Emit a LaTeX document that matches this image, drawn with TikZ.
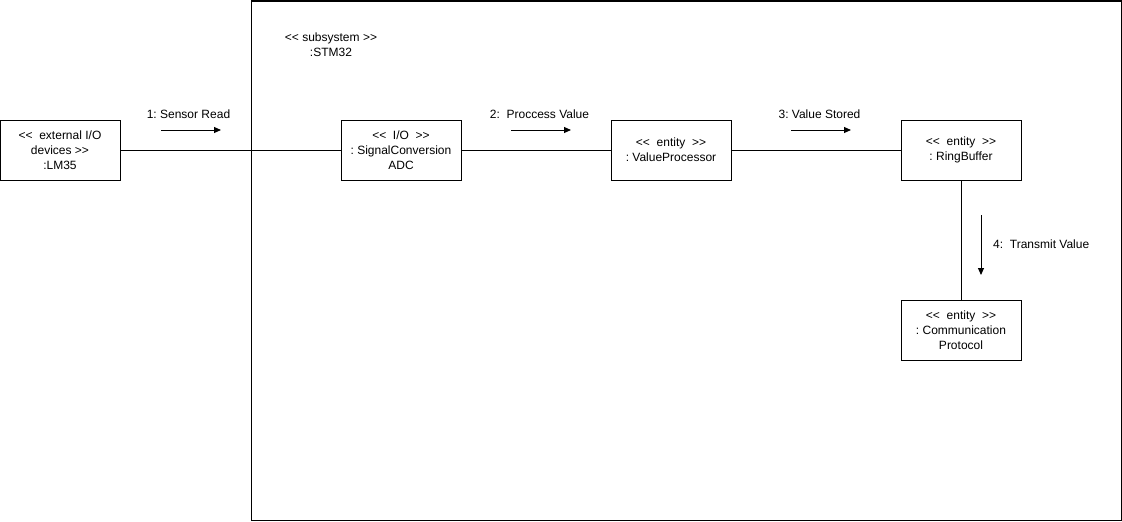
\documentclass[tikz,border=0pt]{standalone}
\usepackage{fontspec}
\setmainfont{Liberation Sans}
\usetikzlibrary{arrows.meta}
\begin{document}
\begin{tikzpicture}[x=1pt,y=-1pt,
  every node/.style={font=\fontsize{12}{15}\selectfont\frenchspacing},
  objbox/.style={draw,line width=1pt,minimum width=120pt,minimum height=60pt,align=center,inner sep=0pt},
  link/.style={line width=1pt},
  msg/.style={line width=1pt,-{Triangle[length=7pt,width=6pt]}},
  lbl/.style={inner sep=0pt,align=center}]
\useasboundingbox (0,0) rectangle (1122,522);
\node[draw,line width=1pt,minimum width=870pt,minimum height=519pt,inner sep=0pt] (sub) at (686,260.5) {};
\node[lbl] (subl) at (331,45) {{<}{<} subsystem {>}{>}\\:STM32};
\node[objbox] (lm) at (60,150) {{<}{<}\ \ external I/O\\devices {>}{>}\\:LM35};
\node[objbox] (adc) at (401,150) {{<}{<}\ \ I/O\ \ {>}{>}\\: SignalConversion\\ADC};
\node[objbox] (vp) at (671,150) {{<}{<}\ \ entity\ \ {>}{>}\\: ValueProcessor};
\node[objbox] (rb) at (961,150) {{<}{<}\ \ entity\ \ {>}{>}\\: RingBuffer};
\node[objbox] (cp) at (961,330) {{<}{<}\ \ entity\ \ {>}{>}\\: Communication\\Protocol};
\draw[link] (lm) -- (adc);
\draw[link] (adc) -- (vp);
\draw[link] (vp) -- (rb);
\draw[link] (rb) -- (cp);
\coordinate (a1s) at (161,130); \coordinate (a1e) at (221,130);
\coordinate (a2s) at (511,130); \coordinate (a2e) at (571,130);
\coordinate (a3s) at (791,130); \coordinate (a3e) at (851,130);
\coordinate (a4s) at (981,215); \coordinate (a4e) at (981,275);
\draw[msg] (a1s) -- (a1e);
\draw[msg] (a2s) -- (a2e);
\draw[msg] (a3s) -- (a3e);
\draw[msg] (a4s) -- (a4e);
\node[lbl] (l1) at (188.5,114) {1: Sensor Read};
\node[lbl] (l2) at (539.5,114) {2:\ \ Proccess Value};
\node[lbl] (l3) at (819.5,114) {3: Value Stored};
\node[lbl,anchor=west] (l4) at (993,244) {4:\ \ Transmit Value};
\end{tikzpicture}
\end{document}
